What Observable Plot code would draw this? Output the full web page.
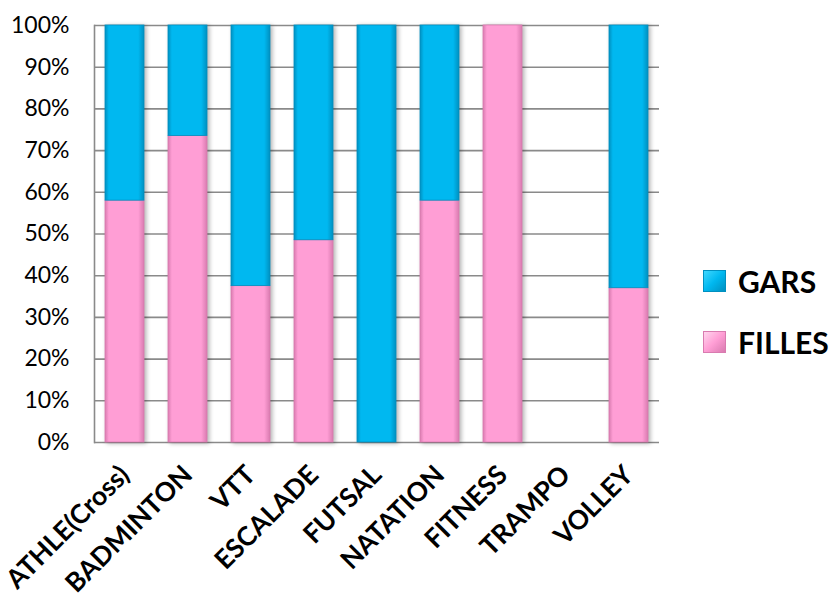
<!DOCTYPE html>
<html>
<head>
<meta charset="utf-8">
<script src="https://cdn.jsdelivr.net/npm/d3@7"></script>
<script src="https://cdn.jsdelivr.net/npm/@observablehq/plot@0.6"></script>
<style>
  html, body { margin: 0; padding: 0; background: #fff; }
  #wrap { position: relative; width: 836px; height: 606px; font-family: Lato, "Open Sans", sans-serif; overflow: hidden; }
  #legend { position: absolute; left: 703px; top: 265px; }
  .item { display: flex; align-items: center; height: 32px; margin-bottom: 29px; }
  .sw { width: 23px; height: 22px; box-sizing: border-box; margin-right: 12px; }
  .lab { font-weight: bold; font-size: 30px; color: #000; }
</style>
</head>
<body>
<div id="wrap"></div>
<script>
const sports = ["ATHLE(Cross)", "BADMINTON", "VTT", "ESCALADE", "FUTSAL", "NATATION", "FITNESS", "TRAMPO", "VOLLEY"];
const filles = [58, 73.5, 37.5, 48.5, 0, 58, 100, 0, 37];
const gars   = [42, 26.5, 62.5, 51.5, 100, 42, 0, 0, 63];
const series = ["FILLES", "GARS"];
const seriesColors = ["#FF9ED5", "#00B8F0"];
const seriesDark = ["#D97BB0", "#0090C0"];
const seriesLight = ["#FFD6EE", "#40D8FF"];
const legendOrder = ["GARS", "FILLES"];
const yTicks = [0, 0.1, 0.2, 0.3, 0.4, 0.5, 0.6, 0.7, 0.8, 0.9, 1];

const rows = sports.flatMap((s, i) => [
  {sport: s, sexe: "FILLES", value: filles[i] / 100},
  {sport: s, sexe: "GARS", value: gars[i] / 100}
]);

const gradIds = series.map((s, i) => "grad" + i);

const chart = Plot.plot({
  width: 836,
  height: 606,
  marginLeft: 94,
  marginRight: 177,
  marginTop: 25,
  marginBottom: 164,
  style: {fontFamily: "Lato, 'Open Sans', sans-serif", fontSize: "22px", color: "#000", background: "transparent", overflow: "visible"},
  x: {domain: sports, paddingInner: 0.38, paddingOuter: 0.16, label: null},
  y: {domain: [0, 1], label: null},
  color: {domain: series, range: gradIds.map(id => `url(#${id})`)},
  marks: [
    Plot.gridY(yTicks, {stroke: "#8a8a8a", strokeOpacity: 1, strokeWidth: 1.6}),
    Plot.frame({anchor: "left", stroke: "#8a8a8a", strokeWidth: 1.6}),
    Plot.axisY(yTicks, {tickSize: 0, tickPadding: 25, tickFormat: d3.format(".0%"), fontSize: 23, label: null}),
    Plot.barY(rows, {x: "sport", y: "value", fill: "sexe", stroke: (d) => seriesDark[series.indexOf(d.sexe)], strokeWidth: 0.8}),
    Plot.axisX({tickSize: 0, tickRotate: -45, tickPadding: 28, dx: 0, fontSize: 26.5, fontWeight: "bold", label: null})
  ]
});

// gradients for the bevelled bar look
const ns = "http://www.w3.org/2000/svg";
const defs = document.createElementNS(ns, "defs");
series.forEach((s, i) => {
  const g = document.createElementNS(ns, "linearGradient");
  g.setAttribute("id", gradIds[i]);
  g.setAttribute("x1", "0"); g.setAttribute("x2", "1"); g.setAttribute("y1", "0"); g.setAttribute("y2", "0");
  [[0, seriesDark[i]], [0.1, seriesColors[i]], [0.85, seriesColors[i]], [1, seriesDark[i]]].forEach(([o, c]) => {
    const st = document.createElementNS(ns, "stop");
    st.setAttribute("offset", o);
    st.setAttribute("stop-color", c);
    g.appendChild(st);
  });
  defs.appendChild(g);
});
chart.insertBefore(defs, chart.firstChild);
chart.querySelectorAll('g[aria-label="bar"]').forEach(g => g.style.filter = "drop-shadow(2px 1px 2px rgba(0,0,0,0.3))");

const wrap = document.getElementById("wrap");
wrap.appendChild(chart);

const legend = document.createElement("div");
legend.id = "legend";
legendOrder.forEach(s => {
  const i = series.indexOf(s);
  const item = document.createElement("div");
  item.className = "item";
  const sw = document.createElement("div");
  sw.className = "sw";
  sw.style.background = `linear-gradient(135deg, ${seriesLight[i]}, ${seriesColors[i]} 50%, ${seriesDark[i]})`;
  sw.style.border = `1px solid ${seriesDark[i]}`;
  const lab = document.createElement("span");
  lab.className = "lab";
  lab.textContent = s;
  item.appendChild(sw);
  item.appendChild(lab);
  legend.appendChild(item);
});
wrap.appendChild(legend);
</script>
</body>
</html>
